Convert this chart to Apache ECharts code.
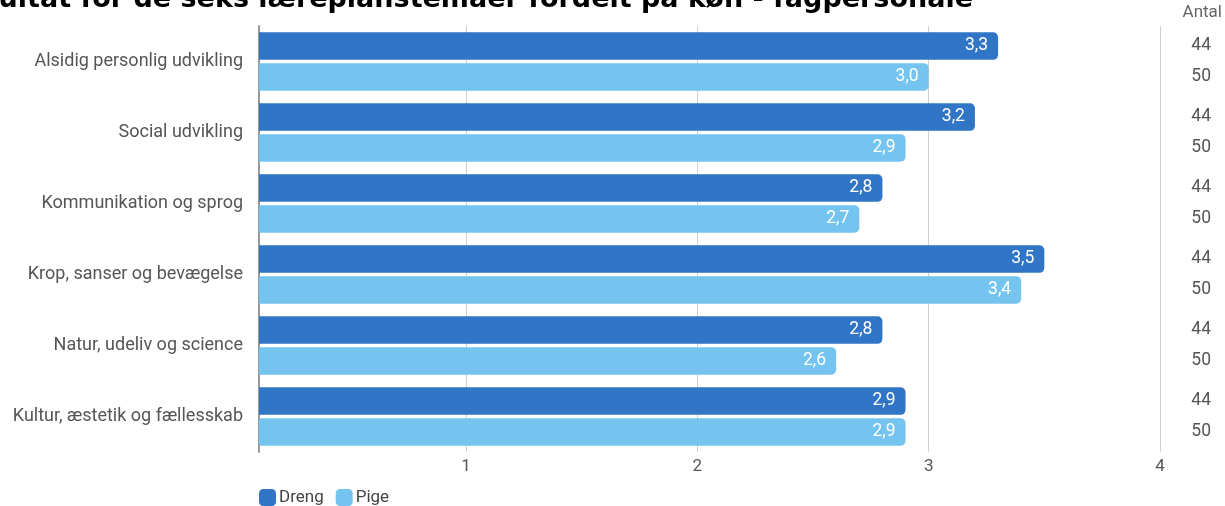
<!DOCTYPE html>
<html>
<head>
<meta charset="utf-8">
<script src="https://cdn.jsdelivr.net/npm/echarts@6/dist/echarts.min.js"></script>
<style>
  html, body { margin: 0; padding: 0; background: #fff; }
  #chart { width: 1225px; height: 506px; }
</style>
</head>
<body>
<div id="chart"></div>
<script>
const titleText = "Gennemsnitligt resultat for de seks læreplanstemaer fordelt på køn - fagpersonale";
const categories = [
  "Alsidig personlig udvikling",
  "Social udvikling",
  "Kommunikation og sprog",
  "Krop, sanser og bevægelse",
  "Natur, udeliv og science",
  "Kultur, æstetik og fællesskab"
];
const seriesNames = ["Dreng", "Pige"];
const drengValues = [3.3, 3.2, 2.8, 3.5, 2.8, 2.9];
const pigeValues = [3.0, 2.9, 2.7, 3.4, 2.6, 2.9];
const drengCount = [44, 44, 44, 44, 44, 44];
const pigeCount = [50, 50, 50, 50, 50, 50];
const xTicks = [1, 2, 3, 4];
const countHeader = "Antal";

const FONT = "Roboto, 'Noto Sans', sans-serif";
const colors = ["#3175c6", "#74c4ef"];

const countData = [];
categories.forEach((c, i) => {
  countData.push([4, i, drengCount[i], 0]);
  countData.push([4, i, pigeCount[i], 1]);
});

const chart = echarts.init(document.getElementById('chart'), null, { renderer: 'canvas' });

const fmt = v => v.toFixed(1).replace('.', ',');

chart.setOption({
  animation: false,
  backgroundColor: '#ffffff',
  color: colors,
  grid: { left: 259, right: 65, top: 26, bottom: 54, containLabel: false },
  graphic: [
    {
      type: 'text', x: 973, y: -14,
      style: {
        text: titleText, textAlign: 'right', textVerticalAlign: 'top',
        fontFamily: "'DejaVu Sans', Verdana, sans-serif", fontWeight: 'bold', fontSize: 27, fill: '#000'
      }
    },
    {
      type: 'text', x: 1222, y: 13,
      style: {
        text: countHeader, textAlign: 'right', textVerticalAlign: 'middle',
        fontFamily: FONT, fontSize: 17, fill: '#666'
      }
    }
  ],
  legend: {
    left: 259, top: 489, padding: 0,
    itemWidth: 17, itemHeight: 17, itemGap: 12,
    icon: 'roundRect',
    textStyle: { fontFamily: FONT, fontSize: 17, color: '#444', padding: [0, 0, 0, -2] },
    data: seriesNames
  },
  xAxis: {
    type: 'value',
    min: 0.105, max: 4,
    axisLine: { show: false },
    axisTick: { show: false, customValues: xTicks },
    axisLabel: {
      customValues: xTicks, color: '#555', fontFamily: FONT, fontSize: 17, margin: 6,
      formatter: v => String(Math.round(v))
    },
    splitLine: { show: true, lineStyle: { color: '#d0d0d0', width: 1 } }
  },
  yAxis: {
    type: 'category',
    inverse: true,
    data: categories,
    axisLine: { show: true, lineStyle: { color: '#999', width: 2 } },
    axisTick: { show: false },
    axisLabel: { color: '#555', fontFamily: FONT, fontSize: 18, margin: 16 }
  },
  series: [
    {
      name: seriesNames[0], type: 'bar', data: drengValues,
      barWidth: 27.5, barGap: '12%',
      itemStyle: { color: colors[0], borderRadius: [0, 5, 5, 0] },
      label: { show: true, position: 'insideRight', distance: 10, color: '#fff',
               fontFamily: FONT, fontSize: 17.5, formatter: p => fmt(p.value) }
    },
    {
      name: seriesNames[1], type: 'bar', data: pigeValues,
      barWidth: 27.5, barGap: '12%',
      itemStyle: { color: colors[1], borderRadius: [0, 5, 5, 0] },
      label: { show: true, position: 'insideRight', distance: 10, color: '#fff',
               fontFamily: FONT, fontSize: 17.5, formatter: p => fmt(p.value) }
    },
    {
      type: 'custom', name: 'Antal', data: countData,
      encode: { x: 0, y: 1 }, clip: false, silent: true,
      renderItem: function (params, api) {
        const catIdx = api.value(1);
        const n = api.value(2);
        const sub = api.value(3);
        const c = api.coord([4, catIdx]);
        const off = (27.5 + 3.3) / 2;
        return {
          type: 'text',
          x: c[0] + 51, y: c[1] + (sub === 0 ? -off : off),
          style: { text: String(n), textAlign: 'right', textVerticalAlign: 'middle',
                   fontFamily: FONT, fontSize: 17.5, fill: '#555' }
        };
      }
    }
  ]
});
</script>
</body>
</html>
